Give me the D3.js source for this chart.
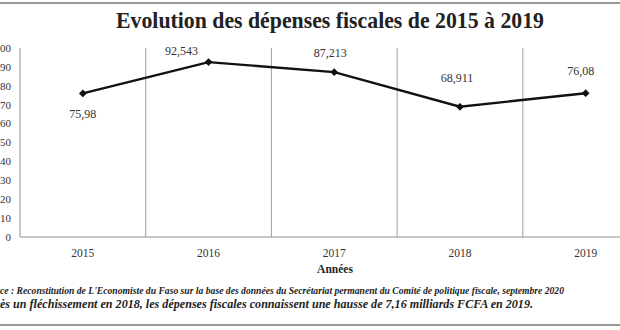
<!DOCTYPE html>
<html><head><meta charset="utf-8">
<script src="https://cdn.jsdelivr.net/npm/d3@7"></script>
<style>body{margin:0;background:#fff}svg{display:block}</style>
</head><body>
<svg id="c" width="620" height="330"></svg>
<script>
const years = ["2015","2016","2017","2018","2019"];
const values = [75.98, 92.543, 87.213, 68.911, 76.08];
const labelTexts = ["75,98","92,543","87,213","68,911","76,08"];
const yTicks = [0,10,20,30,40,50,60,70,80,90,100];
const labelOffsets = [[0,25],[-27,-7],[-4,-15],[-3,-25],[-5,-18]];
const title = "Evolution des dépenses fiscales de 2015 à 2019";
const xTitle = "Années";
const source = "Source : Reconstitution de L'Economiste du Faso sur la base des données du Secrétariat permanent du Comité de politique fiscale, septembre 2020";
const caption = "Après un fléchissement en 2018, les dépenses fiscales connaissent une hausse de 7,16 milliards FCFA en 2019.";

(function(){
const svg = d3.select("#c");
const F = "'Liberation Serif','Times New Roman',serif";
const pLeft = 20, pTop = 48, pBottom = 237, band = 125.7;

// borders
svg.append("line").attr("x1",0).attr("x2",620).attr("y1",3).attr("y2",3).attr("stroke","#777").attr("stroke-width",1.5);
svg.append("line").attr("x1",0).attr("x2",620).attr("y1",325).attr("y2",325).attr("stroke","#777").attr("stroke-width",1.5);

const x = d3.scaleBand().domain(years).range([pLeft, pLeft + band*years.length]);
const y = d3.scaleLinear().domain([0,100]).range([pBottom, pTop]);

// title
const t = svg.append("text").attr("x",116).attr("y",28).attr("font-family",F).attr("font-weight","bold")
  .attr("font-size",22.5).attr("fill","#222").text(title);
const tw = t.node().getComputedTextLength();
if (Math.abs(tw - 428) > 4) t.attr("textLength",428).attr("lengthAdjust","spacingAndGlyphs");

// vertical boundaries
svg.append("g").selectAll("line").data(years).join("line")
  .attr("x1",d=>x(d)+band).attr("x2",d=>x(d)+band).attr("y1",pTop).attr("y2",pBottom)
  .attr("stroke","#a0a0a0").attr("stroke-width",1);
// left axis
svg.append("line").attr("x1",pLeft).attr("x2",pLeft).attr("y1",pTop).attr("y2",pBottom).attr("stroke","#909090");
// bottom axis
svg.append("line").attr("x1",pLeft).attr("x2",620).attr("y1",pBottom).attr("y2",pBottom).attr("stroke","#909090");

// y tick labels
svg.append("g").selectAll("text").data(yTicks).join("text")
  .attr("x",11).attr("y",d=>y(d)).attr("dy","0.35em").attr("text-anchor","end")
  .attr("font-family",F).attr("font-size",11).attr("fill","#333").text(d=>d);

// x labels
svg.append("g").selectAll("text").data(years).join("text")
  .attr("x",d=>x(d)+band/2).attr("y",257).attr("text-anchor","middle")
  .attr("font-family",F).attr("font-size",11.5).attr("fill","#333").text(d=>d);

svg.append("text").attr("x",335).attr("y",273).attr("text-anchor","middle").attr("font-family",F)
  .attr("font-weight","bold").attr("font-size",11.5).attr("fill","#222").text(xTitle);

// line
const pts = years.map((d,i)=>[x(d)+band/2, y(values[i])]);
svg.append("path").attr("d",d3.line()(pts)).attr("fill","none").attr("stroke","#111").attr("stroke-width",2.4);
svg.append("g").selectAll("path").data(pts).join("path")
  .attr("d",d3.symbol(d3.symbolSquare,30)())
  .attr("transform",d=>`translate(${d[0]},${d[1]}) rotate(45)`).attr("fill","#111");

// data labels
svg.append("g").selectAll("text").data(pts).join("text")
  .attr("x",(d,i)=>d[0]+labelOffsets[i][0]).attr("y",(d,i)=>d[1]+labelOffsets[i][1])
  .attr("text-anchor","middle").attr("font-family",F).attr("font-size",12).attr("fill","#333")
  .text((d,i)=>labelTexts[i]);

// cut-off texts (as in the reference): prefix lies left of x=0, end sits at xEnd
function cutText(str, prefix, xEnd, yb, size){
  const el = svg.append("text").attr("y",yb).attr("font-family",F).attr("font-weight","bold")
    .attr("font-style","italic").attr("font-size",size).attr("fill","#222").text(str);
  const full = el.node().getComputedTextLength();
  const tmp = svg.append("text").attr("font-family",F).attr("font-weight","bold")
    .attr("font-style","italic").attr("font-size",size).text(prefix);
  const pre = tmp.node().getComputedTextLength(); tmp.remove();
  const s = xEnd/(full - pre);
  el.attr("x", xEnd - s*full).attr("textLength", s*full).attr("lengthAdjust","spacingAndGlyphs");
}
cutText(source, "Sour", 564, 294, 9.5);
cutText(caption, "Apr", 533, 308, 13);
})();
</script>
</body></html>
